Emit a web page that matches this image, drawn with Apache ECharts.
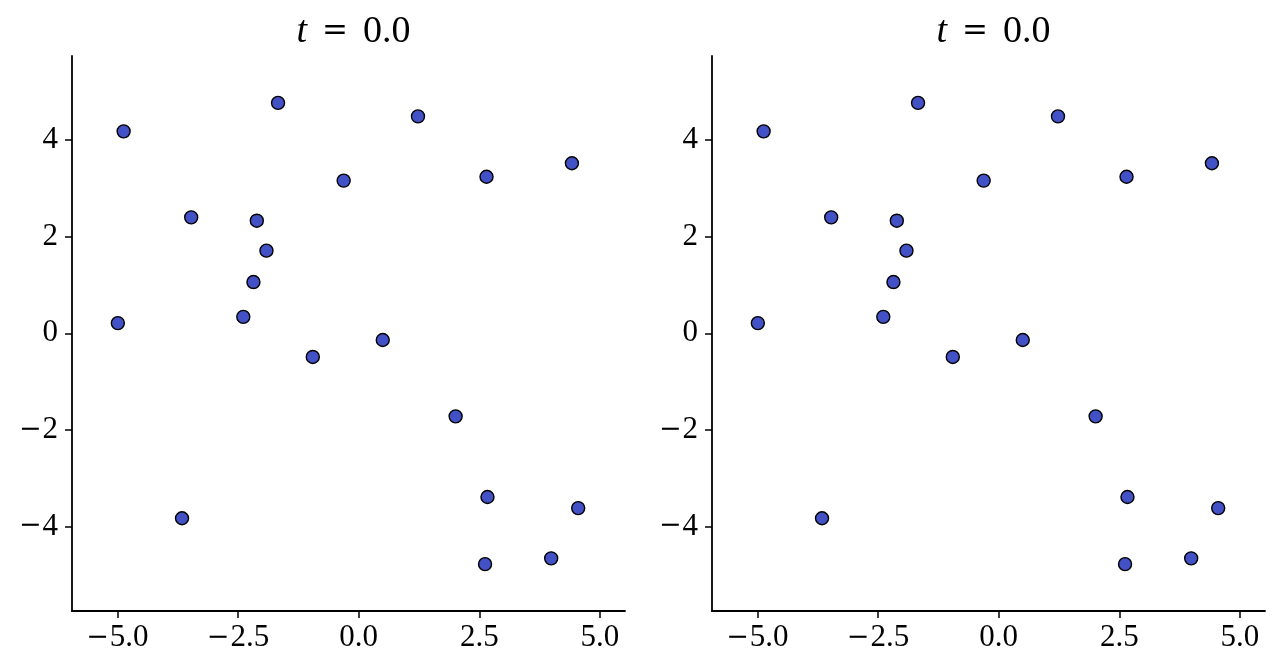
<!DOCTYPE html>
<html>
<head>
<meta charset="utf-8">
<script src="https://cdn.jsdelivr.net/npm/echarts@6/dist/echarts.min.js"></script>
<style>
html,body{margin:0;padding:0;background:#fff;}
#chart{width:1280px;height:670px;}
</style>
</head>
<body>
<div id="chart"></div>
<script>
// Data (both panels show the same frame, t = 0.0)
const titleTime = "0.0";
const xValues = [-4.87, -1.67, 1.23, 4.42, 2.65, -0.31, -3.47, -2.11, -1.91, -2.18,
                 -2.39, -4.99, -0.95, 0.50, 2.01, 2.67, 4.55, -3.66, 2.62, 3.99];
const yValues = [4.18, 4.77, 4.49, 3.52, 3.24, 3.16, 2.40, 2.33, 1.71, 1.06,
                 0.34, 0.21, -0.49, -0.14, -1.72, -3.39, -3.62, -3.83, -4.78, -4.66];
const xTicks = [-5.0, -2.5, 0.0, 2.5, 5.0];
const yTicks = [-4, -2, 0, 2, 4];
const xRange = [-5.94, 5.52];
const yRange = [-5.75, 5.74];

const FONT = "'Liberation Serif', 'DejaVu Serif', serif";
const points = xValues.map((x, i) => [x, yValues[i]]);
const fmtNum = (v, d) => (v < 0 ? '{m|\u2212}' : '') + '{n|' + Math.abs(v).toFixed(d) + '}';

const labelRich = {
  m: {fontFamily: "'DejaVu Serif', serif", fontSize: 27, color: '#000', padding: [0, 1, 0, 0]},
  n: {fontFamily: FONT, fontSize: 31, color: '#000'}
};

const gridLefts = [72, 712];
const grids = gridLefts.map(l => ({left: l, top: 56, width: 553, height: 555, containLabel: false}));

function makeX(i) {
  return {
    type: 'value', gridIndex: i, min: xRange[0], max: xRange[1],
    splitLine: {show: false},
    axisLine: {show: true, onZero: false, lineStyle: {color: '#000', width: 1.8}},
    axisTick: {show: true, length: 7, lineStyle: {color: '#000', width: 1.5}, customValues: xTicks},
    axisLabel: {customValues: xTicks, formatter: v => fmtNum(v, 1), color: '#000',
                fontFamily: FONT, fontSize: 31, margin: 11, rich: labelRich}
  };
}
function makeY(i) {
  return {
    type: 'value', gridIndex: i, min: yRange[0], max: yRange[1],
    splitLine: {show: false},
    axisLine: {show: true, onZero: false, lineStyle: {color: '#000', width: 1.8}},
    axisTick: {show: true, length: 7, lineStyle: {color: '#000', width: 1.5}, customValues: yTicks},
    axisLabel: {customValues: yTicks, formatter: v => fmtNum(v, 0), color: '#000',
                fontFamily: FONT, fontSize: 31, margin: 14, rich: labelRich}
  };
}

const titleRich = {
  i: {fontFamily: FONT, fontStyle: 'italic', fontSize: 38, color: '#000'},
  e: {fontFamily: "'DejaVu Serif', serif", fontSize: 31, color: '#000', width: 56, align: 'center'},
  n: {fontFamily: FONT, fontSize: 38, color: '#000'}
};

const option = {
  backgroundColor: '#fff',
  animation: false,
  title: gridLefts.map(l => ({
    text: '{i|t}{e|=}{n|' + titleTime + '}',
    left: l + 276.5, top: 8, textAlign: 'center',
    textStyle: {rich: titleRich, fontFamily: FONT, fontSize: 38, fontWeight: 'normal', color: '#000'}
  })),
  grid: grids,
  xAxis: [makeX(0), makeX(1)],
  yAxis: [makeY(0), makeY(1)],
  series: [0, 1].map(i => ({
    type: 'scatter', xAxisIndex: i, yAxisIndex: i,
    data: points, symbol: 'circle', symbolSize: 13,
    itemStyle: {color: '#4252C6', borderColor: '#000', borderWidth: 1.4, opacity: 1}
  }))
};

const chart = echarts.init(document.getElementById('chart'), null, {renderer: 'canvas'});
chart.setOption(option);
</script>
</body>
</html>
